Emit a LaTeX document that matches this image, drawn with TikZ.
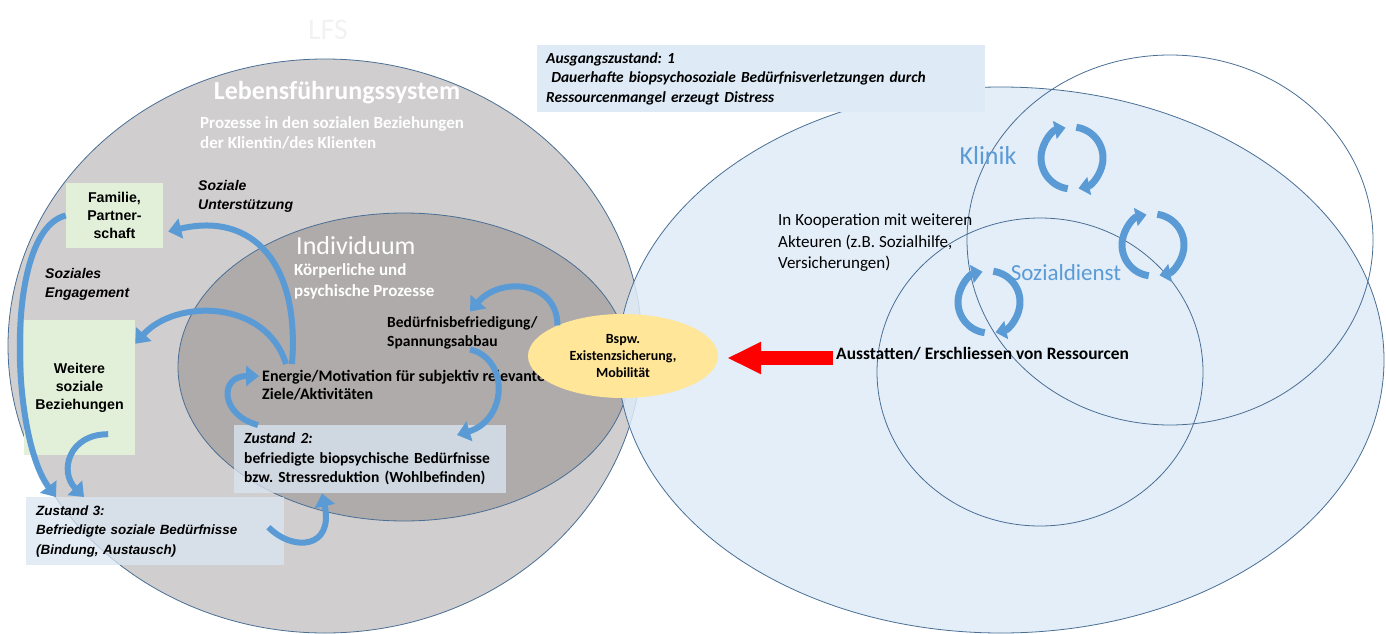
\documentclass[tikz,border=0pt]{standalone}
\usepackage{fontspec}
\setmainfont{Carlito}
\newfontfamily\arialfont{Liberation Sans}
\usepackage{tikz}
\usetikzlibrary{positioning, arrows.meta, calc, shapes.geometric}
\definecolor{lfsGrey}{HTML}{D0CECE}
\definecolor{indGrey}{HTML}{AFABAB}
\definecolor{ringB}{HTML}{4A6E94}
\definecolor{kooBlue}{HTML}{DEEBF7}
\definecolor{zFill}{HTML}{DAE6F2}
\definecolor{grnBox}{HTML}{E2F0D9}
\definecolor{arrBlue}{HTML}{5B9BD5}
\definecolor{ylwFill}{HTML}{FFE699}
\definecolor{lblBlue}{HTML}{5B9BD5}
\definecolor{faint}{HTML}{F2F2F2}
\newcommand{\fsz}[2]{\fontsize{#1}{#2}\selectfont}
\frenchspacing

\begin{document}
\begin{tikzpicture}[x=1pt,y=-1pt,
  blob/.style={ellipse, draw=ringB, line width=0.8pt, inner sep=0pt},
  txt/.style={anchor=north west, align=left, inner sep=0pt},
  zbox/.style={anchor=north west, align=left, fill=zFill, fill opacity=0.75, text opacity=1, inner xsep=10pt, inner ysep=0pt},
  gbox/.style={fill=grnBox, align=center, inner sep=0pt, font=\arialfont\bfseries\fsz{14.2}{18}},
  bluearr/.style={draw=arrBlue, line width=6pt, -{Triangle[width=20pt,length=13pt]}},
  cyc/.style={draw=arrBlue, line width=7pt, -{Triangle[width=18pt,length=11pt]}},
  redarr/.style={draw=red, line width=14pt, -{Triangle[width=30pt,length=34pt]}}]
\useasboundingbox (0,0) rectangle (1386,634);
\clip (0,0) rectangle (1386,634);
% circles
\node[blob, fill=lfsGrey, minimum width=634pt, minimum height=574pt] (lfs) at (325,346) {};
\node[blob, fill=indGrey, minimum width=452pt, minimum height=308pt] (ind) at (404,367) {};
\node[blob, fill=kooBlue, fill opacity=0.85, minimum width=766pt, minimum height=546pt] (koop) at (1001,360) {};
\node[blob, minimum width=406pt, minimum height=370pt] (klinikring) at (1170,240) {};
\node[blob, minimum width=326pt, minimum height=308pt] (sozring) at (1040,372) {};
% titles
\node[text=faint, font=\fsz{30}{34}] (lfstitle) at (328,30) {LFS};
\node[text=white, font=\bfseries\fsz{26}{30}] (lfsname) at (337,93) {Lebensführungssystem};
\node[txt, text=white, font=\bfseries\fsz{17}{20}] (lfsproc) at (200,116) {Prozesse in den sozialen Beziehungen\\der Klientin/des Klienten};
\node[anchor=west, inner sep=0pt, text=white, font=\fsz{26}{30}] (indname) at (296,246) {Individuum};
\node[txt, text=white, font=\bfseries\fsz{17}{21}] (indproc) at (294,263) {Körperliche und\\psychische Prozesse};
% left side
\node[gbox, minimum width=97pt, minimum height=65pt] (familie) at (114.5,215.5) {Familie,\\Partner-\\schaft};
\node[gbox, minimum width=111pt, minimum height=135pt] (weitere) at (79.5,387.5) {Weitere\\soziale\\Beziehungen};
\node[txt, font=\arialfont\bfseries\itshape\fsz{14}{19}] (unterst) at (198,180) {Soziale\\Unterstützung};
\node[txt, font=\arialfont\bfseries\itshape\fsz{14}{19}] (engag) at (45,268) {Soziales\\Engagement};
\node[txt, font=\bfseries\fsz{15.5}{19}] (bed) at (387,316.5) {Bedürfnisbefriedigung/\\Spannungsabbau};
\node[txt, font=\bfseries\fsz{16}{18.5}] (energie) at (262,370) {Energie/Motivation für subjektiv relevante\\Ziele/Aktivitäten};
\node[zbox, text width=252pt, minimum height=68pt, font=\bfseries\fsz{15.5}{19.5}] (zustand2) at (234,425) {\textit{Zustand 2:}\\befriedigte biopsychische Bedürfnisse\\bzw. Stressreduktion (Wohlbefinden)};
\node[zbox, text width=238pt, minimum height=68pt, font=\arialfont\bfseries\itshape\fsz{13.4}{19.5}] (zustand3) at (26,497) {Zustand 3:\\Befriedigte soziale Bedürfnisse\\(Bindung, Austausch)};
% right side
\node[ellipse, fill=ylwFill, inner sep=0pt, minimum width=190pt, minimum height=84pt, align=center, font=\bfseries\fsz{14}{17}] (bspw) at (623,356) {Bspw.\\Existenzsicherung,\\Mobilität};
\node[anchor=north west, fill=kooBlue, text width=430pt, inner xsep=9pt, inner ysep=0pt, minimum height=67pt, align=left, font=\bfseries\itshape\fsz{15.4}{19.5}] (ausgang) at (537,45) {Ausgangszustand: 1\\\ Dauerhafte biopsychosoziale Bedürfnisverletzungen durch\\Ressourcenmangel erzeugt Distress};
\node[txt, font=\fsz{17}{21.5}] (koopnote) at (778,214) {In Kooperation mit weiteren\\Akteuren (z.B. Sozialhilfe,\\Versicherungen)};
\node[anchor=west, inner sep=0pt, font=\bfseries\fsz{17.4}{20}] (ausst) at (836,354) {Ausstatten/ Erschliessen von Ressourcen};
\node[text=lblBlue, font=\fsz{26}{30}] (klinik) at (988,155) {Klinik};
\node[text=lblBlue, font=\fsz{23}{27}] (sozdienst) at (1066,273) {Sozialdienst};
% arrows
\draw[bluearr] ([shift={(30pt,6pt)}]energie.north west) .. controls +(8,-100) and +(85,-20) .. ([shift={(5pt,-16pt)}]familie.east);
\draw[bluearr] ([shift={(24pt,6pt)}]energie.north west) .. controls +(-20,-65) and +(40,-45) .. ([yshift=-24pt]weitere.north east);
\draw[bluearr] (familie.west) .. controls +(-62,15) and +(-45,-60) .. ([xshift=30pt]zustand3.north west);
\draw[bluearr] ([shift={(-27pt,21pt)}]weitere.south east) .. controls +(-40,0) and +(-25,-25) .. ([xshift=58pt]zustand3.north west);
\draw[bluearr] ([shift={(-16pt,4pt)}]zustand3.east) .. controls +(25,25) and +(12,55) .. ([xshift=88pt]zustand2.south west);
\draw[bluearr] ([xshift=24pt]zustand2.north west) .. controls +(-38,-10) and +(-40,0) .. ([shift={(-3pt,-6pt)}]energie.north west);
\draw[bluearr] ([shift={(83pt,0pt)}]bed.south west) .. controls +(40,10) and +(50,-15) .. ([shift={(223pt,-10pt)}]zustand2.north west);
\draw[bluearr] (bspw.155) .. controls +(0,-45) and +(30,-35) .. ([shift={(83pt,5pt)}]bed.north west);
\draw[redarr, shorten <=3pt, shorten >=9pt] ([yshift=-4pt]ausst.west) -- ([yshift=-2pt]bspw.east);
% cycles
\coordinate (cycK) at (1072,158);
\coordinate (cycS) at (1153,245);
\coordinate (cycL) at (989,302);
\foreach \c in {cycK,cycS,cycL}{
  \draw[cyc] ([shift={(262:31pt and 31pt)}]\c) arc[start angle=262, end angle=102, radius=31pt];
  \draw[cyc] ([shift={(82:31pt and 31pt)}]\c) arc[start angle=82, end angle=-78, radius=31pt];
}
\end{tikzpicture}
\end{document}
